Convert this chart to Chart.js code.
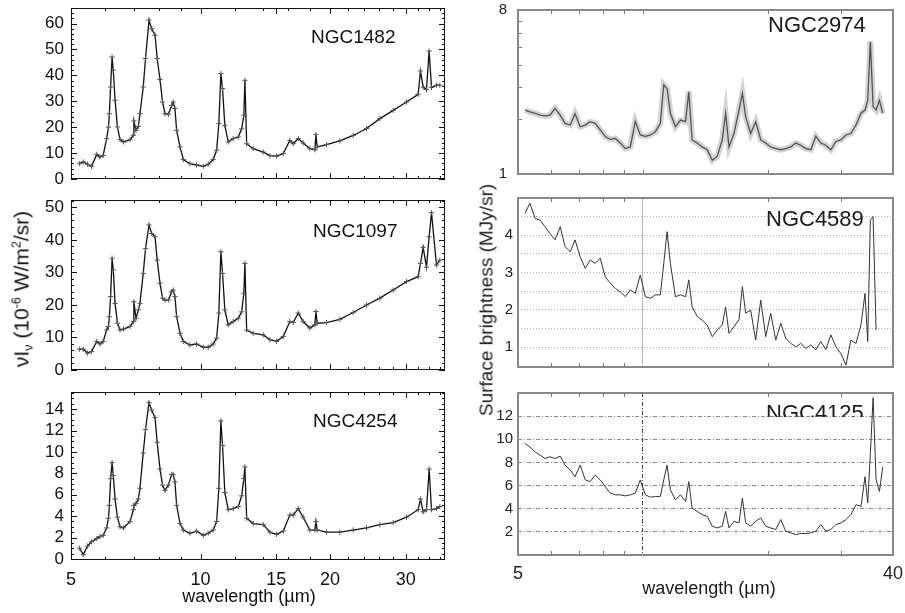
<!DOCTYPE html>
<html><head><meta charset="utf-8">
<script src="https://cdn.jsdelivr.net/npm/chart.js@4.4.1/dist/chart.umd.min.js"></script>
<style>
html,body{margin:0;padding:0;background:#fff;}
#wrap{position:relative;width:905px;height:613px;overflow:hidden;background:#fff;font-family:'Liberation Sans',Arial,Helvetica,sans-serif;color:#111;}
canvas{position:absolute;}
.t{position:absolute;white-space:nowrap;line-height:1;}
.rot{position:absolute;white-space:nowrap;line-height:1;transform:translate(-50%,-50%) rotate(-90deg);}
.rot sub{font-size:0.6em;vertical-align:-0.3em;line-height:0;}
.rot sup{font-size:0.6em;vertical-align:0.6em;line-height:0;}
</style></head><body><div id="wrap"></div>
<script>
// ---------------- DATA ----------------
// Left column: wavelength grid (micron) shared by the three ISO spectra
const lamL = [5.23,5.34,5.46,5.58,5.74,5.84,5.94,6.05,6.11,6.14,6.18,6.23,6.27,6.33,6.41,6.50,6.62,6.86,6.98,7.00,7.08,7.17,7.23,7.36,7.45,7.59,7.70,7.84,7.93,8.05,8.16,8.27,8.42,8.57,8.64,8.72,8.80,8.96,9.12,9.45,9.79,10.15,10.42,10.70,10.90,11.03,11.15,11.25,11.39,11.60,11.91,12.24,12.46,12.61,12.68,12.80,13.26,13.99,14.50,15.02,15.57,16.13,16.42,16.87,17.32,17.95,18.44,18.54,18.67,19.63,21.08,22.64,24.31,26.11,28.04,30.11,32.05,32.45,32.92,33.51,33.99,34.42,35.35,35.99];
const ngc1482 = [5.9,6.6,5.7,4.9,9.5,8.5,9.1,15.6,20,25.2,35.5,47.1,42,30.4,20.1,15.2,14.3,15.2,16.9,22.4,18.8,20.3,25.2,35.5,46.5,61.3,58,55.5,46.5,38.4,29.7,25.2,25,28.4,29.7,27.2,18.8,12.4,7.5,5.9,5.4,4.9,5.7,7.5,11.1,21.4,40.7,34.9,20.7,14.3,15.6,16.2,19.4,24.6,38.1,13.6,11.7,10.4,9.0,8.8,9.8,14.9,13.6,15.6,13.9,11.7,11.3,17.2,12.4,13.3,14.7,16.8,19.5,23.3,26.5,29.7,32.7,41.7,35.5,34.5,49.4,35.3,36.2,36.2];
const ngc1097 = [6.4,6.4,5.2,5.7,8.8,8.0,8.8,12.3,13.4,16.4,22.6,34.4,30.8,20.5,14.4,12.3,12.6,13.4,14.9,21.0,15.9,18.5,20.5,29.7,37.4,44.6,42.0,41.0,33.8,26.7,22.1,21.5,21.5,24.1,24.6,22.6,16.4,11.3,8.8,7.7,8.0,7.0,7.0,8.0,9.8,17.5,36.4,29.7,18.5,13.9,14.9,15.9,17.9,23.6,32.8,12.3,11.3,10.8,9.3,8.8,10.3,14.9,14.6,17.5,14.9,12.9,13.9,18.0,14.4,14.6,15.6,17.7,20.0,22.1,24.6,27.2,28.7,32.8,37.7,31.6,41.0,48.4,32.3,33.8];
const ngc4254 = [1.0,0.4,1.2,1.6,1.9,2.1,2.2,2.9,3.8,5.0,7.5,9.0,7.8,5.6,3.9,3.0,2.9,3.5,4.6,5.0,5.2,5.6,6.6,9.9,12.1,14.6,13.9,13.2,10.9,8.4,6.9,6.4,6.9,7.9,7.9,7.2,5.0,3.3,2.7,2.4,2.6,2.2,2.4,2.7,3.5,6.6,12.9,10.6,6.2,4.6,4.7,4.9,5.9,7.5,8.6,3.8,3.3,3.2,2.5,2.3,2.6,4.1,4.1,4.7,3.9,2.7,2.7,3.5,2.7,2.5,2.5,2.7,2.9,3.2,3.4,3.9,4.6,5.6,4.4,4.6,8.4,4.6,4.7,4.9];

// Right column: wavelength grid (micron) shared by the three Spitzer spectra
const lamR = [5.20,5.34,5.50,5.65,5.81,5.97,6.14,6.32,6.49,6.68,6.86,7.06,7.26,7.46,7.67,7.89,8.11,8.34,8.58,8.82,9.07,9.32,9.58,9.85,10.13,10.42,10.71,11.01,11.22,11.43,11.64,11.97,12.31,12.66,12.89,13.13,13.51,13.88,14.28,14.68,15.09,15.52,15.81,16.11,16.56,17.03,17.35,17.67,18.17,18.68,19.21,19.75,20.30,20.88,21.47,22.07,22.69,23.33,23.99,24.66,25.36,26.07,26.81,27.56,28.34,29.14,29.96,30.81,31.67,32.58,33.50,34.25,34.77,35.28,35.82,36.42,37.10,37.79];
const ngc2974 = [2.25,2.20,2.16,2.11,2.09,2.11,2.30,2.11,1.90,1.86,2.15,1.82,1.86,1.94,1.90,1.75,1.61,1.55,1.57,1.48,1.38,1.41,1.95,1.64,1.61,1.64,1.71,1.90,3.10,2.95,2.16,1.82,1.98,1.94,2.84,1.54,1.48,1.41,1.36,1.19,1.25,1.54,2.16,1.41,1.67,2.25,2.78,2.07,1.67,1.94,1.54,1.48,1.41,1.38,1.36,1.38,1.41,1.48,1.44,1.38,1.36,1.61,1.48,1.44,1.36,1.51,1.54,1.64,1.67,1.86,2.16,2.25,2.55,5.35,2.35,2.25,2.55,2.16];
const ngc4589 = [4.58,4.85,4.44,4.40,4.22,4.04,3.87,4.22,3.69,3.55,3.87,3.42,3.11,3.33,3.24,3.38,2.88,2.71,2.57,2.48,2.35,2.53,2.44,2.93,2.35,2.31,2.40,2.40,3.24,4.09,3.24,2.35,2.40,2.35,2.80,2.08,1.82,1.73,1.59,1.28,1.46,1.59,2.08,1.37,1.55,1.73,2.62,1.91,1.99,1.19,2.26,1.28,1.91,1.19,1.64,1.24,1.10,1.01,1.10,0.97,1.06,0.93,1.15,0.93,1.33,1.01,0.83,0.52,1.19,1.10,1.60,2.44,1.15,4.40,4.49,1.46,null,null];
const ngc4125 = [9.63,9.34,8.91,8.63,8.34,8.49,8.34,8.54,7.77,7.34,6.77,7.77,6.49,6.34,6.91,6.49,5.91,5.34,5.20,5.20,5.11,5.20,5.34,6.49,5.20,5.00,5.06,5.06,6.49,7.77,5.63,4.77,5.20,4.63,6.34,4.06,3.77,3.49,3.34,2.49,2.34,2.49,3.77,2.34,2.91,2.77,4.91,2.77,2.49,2.91,3.20,2.49,2.34,2.20,3.06,2.06,1.91,1.77,1.86,1.86,1.91,2.06,2.63,2.06,2.20,2.63,2.77,3.06,3.49,4.34,4.20,6.77,4.49,8.77,13.6,6.49,5.49,7.63];

// Tick values / labels
const leftXLabels = [5,10,15,20,30];
const rightXLabels = [5,40];
const p1YLabels = [0,10,20,30,40,50,60];
const p2YLabels = [0,10,20,30,40,50];
const p3YLabels = [0,2,4,6,8,10,12,14];
const p4YLabels = [1,8];
const p5YGrid = [1,1.5,2,2.5,3,3.5,4,4.5];
const p6YGrid = [2,4,6,8,10,12];

// ---------------- RENDER ----------------
const FONT = "'Liberation Sans', Arial, Helvetica, sans-serif";
Chart.defaults.font.family = FONT;
const wrap = document.getElementById('wrap');

function steps(a,b,s){const r=[];for(let v=a;v<=b+1e-9;v+=s)r.push(+v.toFixed(3));return r;}
function pts(xs,ys){return xs.map((x,i)=>({x:x,y:ys[i]}));}

const frameTicks = {
  id:'frameTicks',
  afterDraw(chart,args,o){
    const a=chart.chartArea, ctx=chart.ctx, xs=chart.scales.x, ys=chart.scales.y;
    ctx.save();
    ctx.strokeStyle=o.color; ctx.lineWidth=o.tw;
    ctx.beginPath();
    const X=v=>Math.round(xs.getPixelForValue(v))+0.5, Y=v=>Math.round(ys.getPixelForValue(v))+0.5;
    const xt=(arr,len)=>{(arr||[]).forEach(v=>{const p=X(v);ctx.moveTo(p,a.bottom);ctx.lineTo(p,a.bottom-len);if(o.top){ctx.moveTo(p,a.top);ctx.lineTo(p,a.top+len);}});};
    const yt=(arr,len)=>{(arr||[]).forEach(v=>{const p=Y(v);ctx.moveTo(a.left,p);ctx.lineTo(a.left+len,p);if(o.right){ctx.moveTo(a.right,p);ctx.lineTo(a.right-len,p);}});};
    xt(o.xMaj,o.lMaj); xt(o.xMin,o.lMin); yt(o.yMaj,o.lMaj); yt(o.yMin,o.lMin);
    ctx.stroke();
    ctx.lineWidth=o.fw; ctx.strokeStyle=o.fcolor;
    const off=o.fw%2===1?0.5:0;
    ctx.strokeRect(Math.round(a.left)+off,Math.round(a.top)+off,Math.round(a.right-a.left)-2*off,Math.round(a.bottom-a.top)-2*off);
    ctx.restore();
  }
};

function makePanel(c){
  const cv=document.createElement('canvas');
  const [bx,by,bw,bh]=c.box;
  cv.width=bw; cv.height=bh;
  cv.style.left=bx+'px'; cv.style.top=by+'px'; cv.style.width=bw+'px'; cv.style.height=bh+'px';
  wrap.appendChild(cv);
  const [L,T,R,B]=c.plot;
  const yW=L-bx, padT=T-by, padR=bx+bw-R, xH=by+bh-B;
  const xg=c.xGrid, yg=c.yGrid;
  return new Chart(cv,{
    type:'line',
    data:{datasets:c.datasets},
    options:{
      responsive:false, animation:false, devicePixelRatio:1, events:[],
      layout:{padding:{left:0,top:padT,right:padR,bottom:0}},
      plugins:{legend:{display:false},tooltip:{enabled:false},title:{display:false},frameTicks:c.ft},
      elements:{line:{tension:0}},
      scales:{
        x:{type:'logarithmic',min:c.xMin,max:c.xMax,bounds:'data',
          afterBuildTicks:s=>{s.ticks=c.xTicks.map(v=>({value:v}));},
          afterFit:s=>{s.height=xH;s.paddingLeft=0;s.paddingRight=0;},
          ticks:{display:!!c.xLab,autoSkip:false,maxRotation:0,minRotation:0,padding:c.xPad||0,color:c.tColor,font:{size:c.xFont||18},callback:v=>c.xLab?c.xLab(v):''},
          grid:{display:!!xg,drawTicks:false,lineWidth:xg?xg.width:0,
            color:ctx=>(xg&&ctx.tick&&Math.abs(ctx.tick.value-10)<1e-6)?xg.color:'rgba(0,0,0,0)'},
          border:{display:false,dash:xg?xg.dash:[]}
        },
        y:{type:c.yType||'linear',min:c.yMin,max:c.yMax,bounds:'data',
          afterBuildTicks:s=>{s.ticks=c.yTicks.map(v=>({value:v}));},
          afterFit:s=>{s.width=yW;s.paddingTop=0;s.paddingBottom=0;},
          ticks:{display:true,autoSkip:false,padding:c.yPad,color:c.tColor,font:{size:c.yFont},callback:v=>c.yLab(v)},
          grid:{display:!!yg,drawTicks:false,lineWidth:yg?yg.width:0,color:yg?yg.color:'rgba(0,0,0,0)'},
          border:{display:false,dash:yg?yg.dash:[]}
        }
      }
    },
    plugins:[frameTicks]
  });
}

// left column style
function leftSet(vals){
  return [{data:pts(lamL,vals),borderColor:'#111',borderWidth:1.3,pointStyle:'cross',pointRadius:2.6,
    pointBorderColor:'#555',pointBorderWidth:1,pointBackgroundColor:'#555',fill:false}];
}
const leftXMaj=[10,15,20,30], leftXMin=[6,7,8,9,12,14,16,18,22,24,26,28,32,34,36];
function leftFt(yMaj,yMin){return {color:'#111',tw:1,lMaj:6,lMin:3,fw:1,fcolor:'#111',top:true,right:true,
  xMaj:leftXMaj,xMin:leftXMin,yMaj:yMaj,yMin:yMin};}
const intLab=v=>String(v);

makePanel({box:[0,0,460,190],plot:[71,8,445,179],xMin:5,xMax:37,xTicks:leftXLabels,xLab:null,
  yMin:0,yMax:66,yTicks:p1YLabels,yLab:intLab,yFont:17,yPad:7,tColor:'#111',
  datasets:leftSet(ngc1482),ft:leftFt(p1YLabels,steps(2,64,2))});
makePanel({box:[0,190,460,190],plot:[71,200,445,370],xMin:5,xMax:37,xTicks:leftXLabels,xLab:null,
  yMin:0,yMax:52.3,yTicks:p2YLabels,yLab:intLab,yFont:17,yPad:7,tColor:'#111',
  datasets:leftSet(ngc1097),ft:leftFt(p2YLabels,steps(2,52,2))});
makePanel({box:[0,380,460,233],plot:[71,392,445,560],xMin:5,xMax:37,xTicks:leftXLabels,xLab:v=>String(v),xFont:18,xPad:9,
  yMin:-0.1,yMax:15.6,yTicks:p3YLabels,yLab:intLab,yFont:17,yPad:7,tColor:'#111',
  datasets:leftSet(ngc4254),ft:leftFt(p3YLabels,steps(0.5,15.5,0.5))});

// right column
const rightXMin=[6,7,8,9,10,20,30];
makePanel({box:[460,0,445,190],plot:[518,10,893,174],xMin:5,xMax:40,xTicks:rightXLabels,xLab:null,
  yType:'logarithmic',yMin:1,yMax:8,yTicks:p4YLabels,yLab:intLab,yFont:15,yPad:11,tColor:'#222',
  datasets:[
    {data:pts(lamR,ngc2974),borderColor:'rgba(160,160,160,0.45)',borderWidth:6,pointRadius:0,fill:false},
    {data:pts(lamR,ngc2974),borderColor:'#151515',borderWidth:1.3,pointRadius:0,fill:false}],
  ft:{color:'#777',tw:1,lMaj:4,lMin:4,fw:2,fcolor:'#888',top:true,right:false,xMaj:[],xMin:rightXMin,yMaj:[],yMin:[2,3,4,5,6,7]}});
makePanel({box:[460,190,445,190],plot:[518,198,893,367],xMin:5,xMax:40,xTicks:[5,10,40],xLab:null,
  yMin:0.47,yMax:4.99,yTicks:p5YGrid,yLab:v=>Number.isInteger(v)?String(v):'',yFont:15,yPad:5,tColor:'#222',
  xGrid:{color:'#bbb',width:1,dash:[]},yGrid:{color:'#aaa',width:1,dash:[1,2]},
  datasets:[{data:pts(lamR,ngc4589),borderColor:'#333',borderWidth:1,pointRadius:0,fill:false}],
  ft:{color:'#777',tw:1,lMaj:4,lMin:4,fw:2,fcolor:'#888',top:true,right:false,xMaj:[],xMin:[6,7,8,9,20,30],yMaj:[],yMin:[]}});
makePanel({box:[460,380,445,233],plot:[518,393,893,555],xMin:5,xMax:40,xTicks:[5,10,40],xLab:v=>(v===5||v===40)?String(v):'',xFont:18,xPad:8,
  yMin:0,yMax:14,yTicks:p6YGrid,yLab:intLab,yFont:15,yPad:5,tColor:'#222',
  xGrid:{color:'#444',width:1,dash:[4,2,1,2]},yGrid:{color:'#888',width:1,dash:[4,2,1,2]},
  datasets:[{data:pts(lamR,ngc4125),borderColor:'#333',borderWidth:1,pointRadius:0,fill:false}],
  ft:{color:'#777',tw:1,lMaj:4,lMin:4,fw:2,fcolor:'#888',top:true,right:false,xMaj:[],xMin:[6,7,8,9,20,30],yMaj:[],yMin:[]}});

// ---------------- TEXT ----------------
function txt(html,o){
  const d=document.createElement('div');
  d.className='t'; d.innerHTML=html;
  d.style.fontSize=o.size+'px';
  d.style.color=o.color||'#111';
  d.style.top=(o.base-0.8465*o.size)+'px';
  if(o.cx!==undefined){d.style.left=o.cx+'px';d.style.transform='translateX(-50%)';}
  else d.style.left=o.x+'px';
  (o.parent||wrap).appendChild(d);
  return d;
}
function rot(html,cx,cy,size,color){
  const d=document.createElement('div');
  d.className='rot'; d.innerHTML=html;
  d.style.fontSize=size+'px'; d.style.left=cx+'px'; d.style.top=cy+'px'; d.style.color=color||'#111';
  wrap.appendChild(d);
}
// panel names
txt('NGC1482',{x:311,base:43,size:19});
txt('NGC1097',{x:313,base:237,size:19});
txt('NGC4254',{x:313,base:427,size:19});
txt('NGC2974',{x:768,base:33,size:22,color:'#1a1a1a'});
txt('NGC4589',{x:766,base:227,size:22,color:'#1a1a1a'});
(function(){
  const box=document.createElement('div');
  box.style.cssText='position:absolute;left:760px;top:400px;width:110px;height:17px;overflow:hidden;';
  wrap.appendChild(box);
  txt('NGC4125',{x:6,base:420.8-400,size:22,color:'#1a1a1a',parent:box});
})();
// axis titles
txt('wavelength (\u00b5m)',{cx:249,base:602,size:18});
txt('wavelength (\u00b5m)',{cx:709,base:594,size:18,color:'#1a1a1a'});
rot('\u03bdI<sub>\u03bd</sub> (10<sup>-6</sup> W/m<sup>2</sup>/sr)',21,289,21);
rot('Surface brightness (MJy/sr)',486,300,19,'#1a1a1a');
</script></body></html>
